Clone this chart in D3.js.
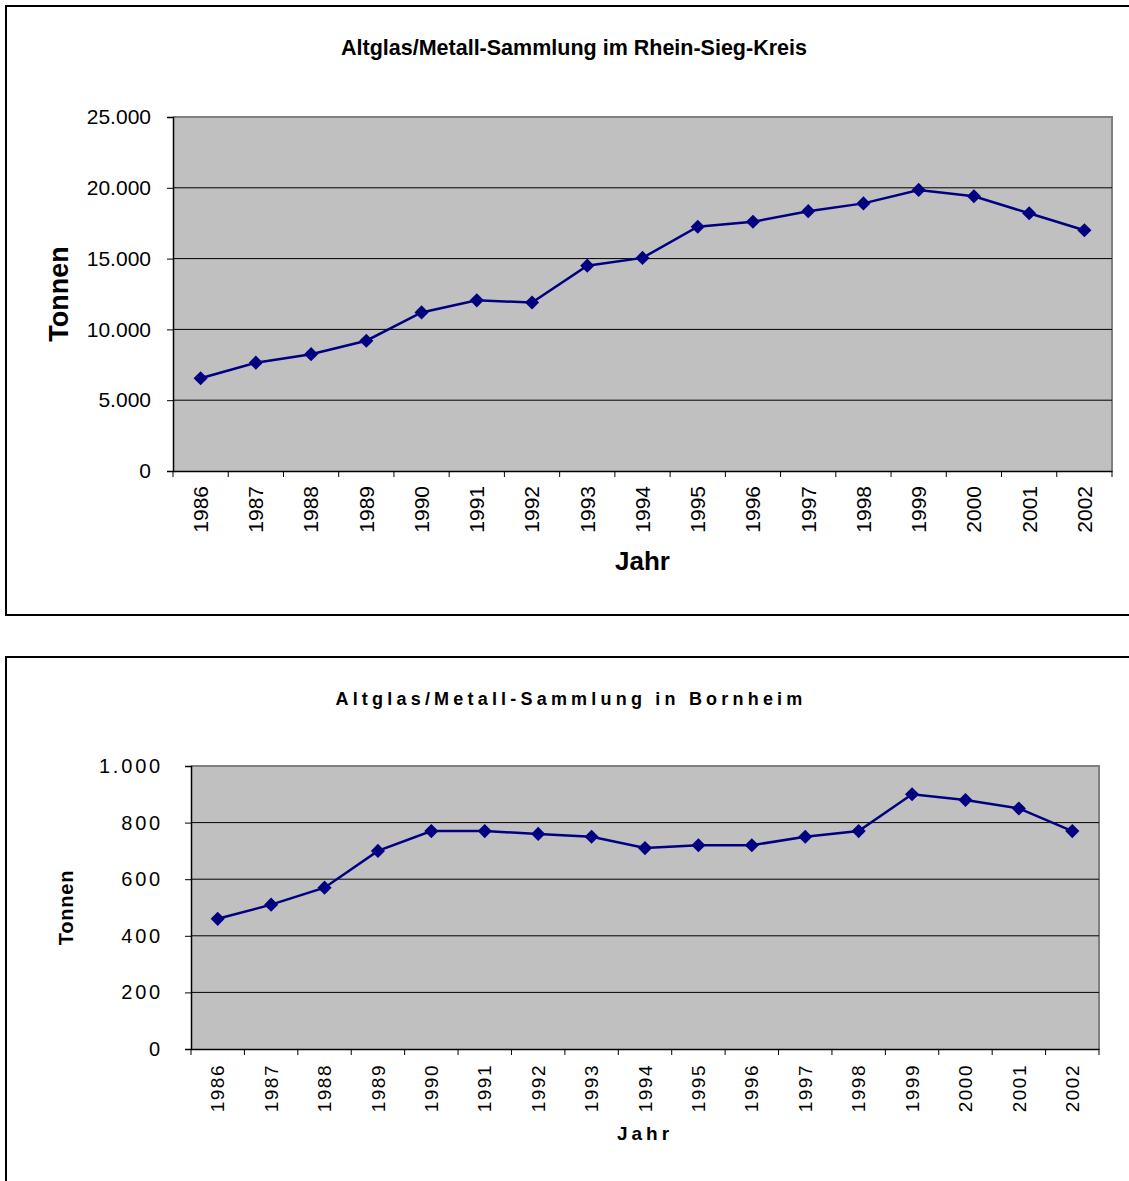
<!DOCTYPE html>
<html>
<head>
<meta charset="utf-8">
<script src="https://cdn.jsdelivr.net/npm/d3@7"></script>
<style>
  html, body { margin: 0; padding: 0; background: #fff; }
  svg { display: block; font-family: "Liberation Sans", Arial, sans-serif; }
</style>
</head>
<body>
<svg id="chart" width="1129" height="1181"></svg>
<script>
// ---------- data ----------
const years = ["1986","1987","1988","1989","1990","1991","1992","1993","1994","1995","1996","1997","1998","1999","2000","2001","2002"];
const rheinSiegValues = [6550, 7650, 8250, 9200, 11200, 12050, 11900, 14500, 15050, 17250, 17600, 18350, 18900, 19850, 19400, 18200, 17000];
const bornheimValues = [460, 510, 570, 700, 770, 770, 760, 750, 710, 720, 720, 750, 770, 900, 880, 850, 770];
const rheinSiegTicks = [0, 5000, 10000, 15000, 20000, 25000];
const bornheimTicks = [0, 200, 400, 600, 800, 1000];
const titleTop = "Altglas/Metall-Sammlung im Rhein-Sieg-Kreis";
const titleBottom = "Altglas/Metall-Sammlung in Bornheim";
const yLabel = "Tonnen";
const xLabel = "Jahr";

const fmt = v => d3.format(",")(v).replace(/,/g, ".");
const svg = d3.select("#chart");

function drawChart(cfg) {
  const g = svg.append("g");
  // outer frame
  g.append("rect")
    .attr("x", cfg.frame.x).attr("y", cfg.frame.y)
    .attr("width", cfg.frame.w).attr("height", cfg.frame.h)
    .attr("fill", "#fff").attr("stroke", "#000").attr("stroke-width", 2);

  const x = d3.scaleBand().domain(years).range([cfg.plot.l, cfg.plot.r]).padding(0);
  const y = d3.scaleLinear().domain([0, d3.max(cfg.ticks)]).range([cfg.plot.b, cfg.plot.t]);

  // plot background
  g.append("rect")
    .attr("x", cfg.plot.l).attr("y", cfg.plot.t)
    .attr("width", cfg.plot.r - cfg.plot.l).attr("height", cfg.plot.b - cfg.plot.t)
    .attr("fill", "#c0c0c0");
  // top & right border (gray)
  g.append("path")
    .attr("d", `M${cfg.plot.l},${cfg.plot.t}H${cfg.plot.r}V${cfg.plot.b}`)
    .attr("fill", "none").attr("stroke", "#808080").attr("stroke-width", 2);

  // gridlines
  g.append("g").selectAll("line").data(cfg.ticks.filter(t => t > 0 && t < d3.max(cfg.ticks)))
    .join("line")
    .attr("x1", cfg.plot.l).attr("x2", cfg.plot.r)
    .attr("y1", d => y(d)).attr("y2", d => y(d))
    .attr("stroke", "#000").attr("stroke-width", 1);

  // y axis
  const yAxis = g.append("g").attr("transform", `translate(${cfg.plot.l},0)`)
    .call(d3.axisLeft(y).tickValues(cfg.ticks).tickFormat(fmt).tickSize(6).tickPadding(cfg.yPad));
  yAxis.select(".domain").attr("stroke", "#000").attr("stroke-width", 1.5);
  yAxis.selectAll(".tick line").attr("stroke", "#000");
  yAxis.selectAll(".tick text")
    .attr("fill", "#000").style("font-size", cfg.yFont + "px")
    .style("letter-spacing", cfg.ySpacing + "px")
    .style("font-family", '"Liberation Sans", Arial, sans-serif');

  // x axis
  const xAxis = g.append("g").attr("transform", `translate(0,${cfg.plot.b})`)
    .call(d3.axisBottom(x).tickSize(0).tickPadding(0));
  xAxis.select(".domain").attr("stroke", "#000").attr("stroke-width", 1.5);
  // tick marks at band boundaries
  g.append("g").selectAll("line").data(years.concat(["end"]))
    .join("line")
    .attr("x1", (d, i) => cfg.plot.l + i * x.bandwidth())
    .attr("x2", (d, i) => cfg.plot.l + i * x.bandwidth())
    .attr("y1", cfg.plot.b).attr("y2", cfg.plot.b + 6)
    .attr("stroke", "#000").attr("stroke-width", 1);
  xAxis.selectAll(".tick text")
    .attr("fill", "#000")
    .attr("transform", "rotate(-90)")
    .attr("x", -cfg.xLabOff).attr("y", 0).attr("dy", "0.35em")
    .attr("text-anchor", "end")
    .style("font-size", cfg.xFont + "px")
    .style("letter-spacing", cfg.xSpacing + "px")
    .style("font-family", '"Liberation Sans", Arial, sans-serif');

  // line
  const data = years.map((yr, i) => ({ yr, v: cfg.values[i] }));
  const line = d3.line().x(d => x(d.yr) + x.bandwidth() / 2).y(d => y(d.v));
  g.append("path").datum(data)
    .attr("d", line).attr("fill", "none")
    .attr("stroke", "#000080").attr("stroke-width", 2.5);
  g.append("g").selectAll("path").data(data).join("path")
    .attr("d", d3.symbol(d3.symbolSquare, 100)())
    .attr("transform", d => `translate(${x(d.yr) + x.bandwidth() / 2},${y(d.v)}) rotate(45)`)
    .attr("fill", "#000080");

  // title
  g.append("text")
    .attr("x", cfg.title.x).attr("y", cfg.title.y)
    .attr("text-anchor", "middle").attr("font-weight", "bold")
    .style("font-size", cfg.title.size + "px")
    .style("letter-spacing", cfg.title.spacing + "px")
    .text(cfg.title.text);
  // y label
  g.append("text")
    .attr("transform", `translate(${cfg.yLab.x},${(cfg.plot.t + cfg.plot.b) / 2}) rotate(-90)`)
    .attr("text-anchor", "middle").attr("font-weight", "bold")
    .style("font-size", cfg.yLab.size + "px")
    .style("letter-spacing", cfg.yLab.spacing + "px")
    .text(yLabel);
  // x label
  g.append("text")
    .attr("x", (cfg.plot.l + cfg.plot.r) / 2).attr("y", cfg.xLab.y)
    .attr("text-anchor", "middle").attr("font-weight", "bold")
    .style("font-size", cfg.xLab.size + "px")
    .style("letter-spacing", cfg.xLab.spacing + "px")
    .text(xLabel);
}

drawChart({
  frame: { x: 6, y: 6, w: 1140, h: 609 },
  plot: { l: 173, r: 1112, t: 117, b: 471 },
  values: rheinSiegValues, ticks: rheinSiegTicks,
  yFont: 21, ySpacing: 0, xFont: 21, xSpacing: 0, yPad: 16, xLabOff: 15,
  title: { x: 574, y: 55, size: 21.5, spacing: 0, text: titleTop },
  yLab: { x: 68, size: 27, spacing: 0 },
  xLab: { y: 570, size: 26, spacing: 0 }
});

drawChart({
  frame: { x: 6, y: 657, w: 1140, h: 600 },
  plot: { l: 191, r: 1099, t: 766, b: 1049 },
  values: bornheimValues, ticks: bornheimTicks,
  yFont: 20, ySpacing: 2.8, xFont: 19, xSpacing: 1.5, yPad: 22, xLabOff: 15,
  title: { x: 571, y: 705, size: 18, spacing: 4.2, text: titleBottom },
  yLab: { x: 73, size: 20, spacing: 0.8 },
  xLab: { y: 1140, size: 19, spacing: 4 }
});
</script>
</body>
</html>
